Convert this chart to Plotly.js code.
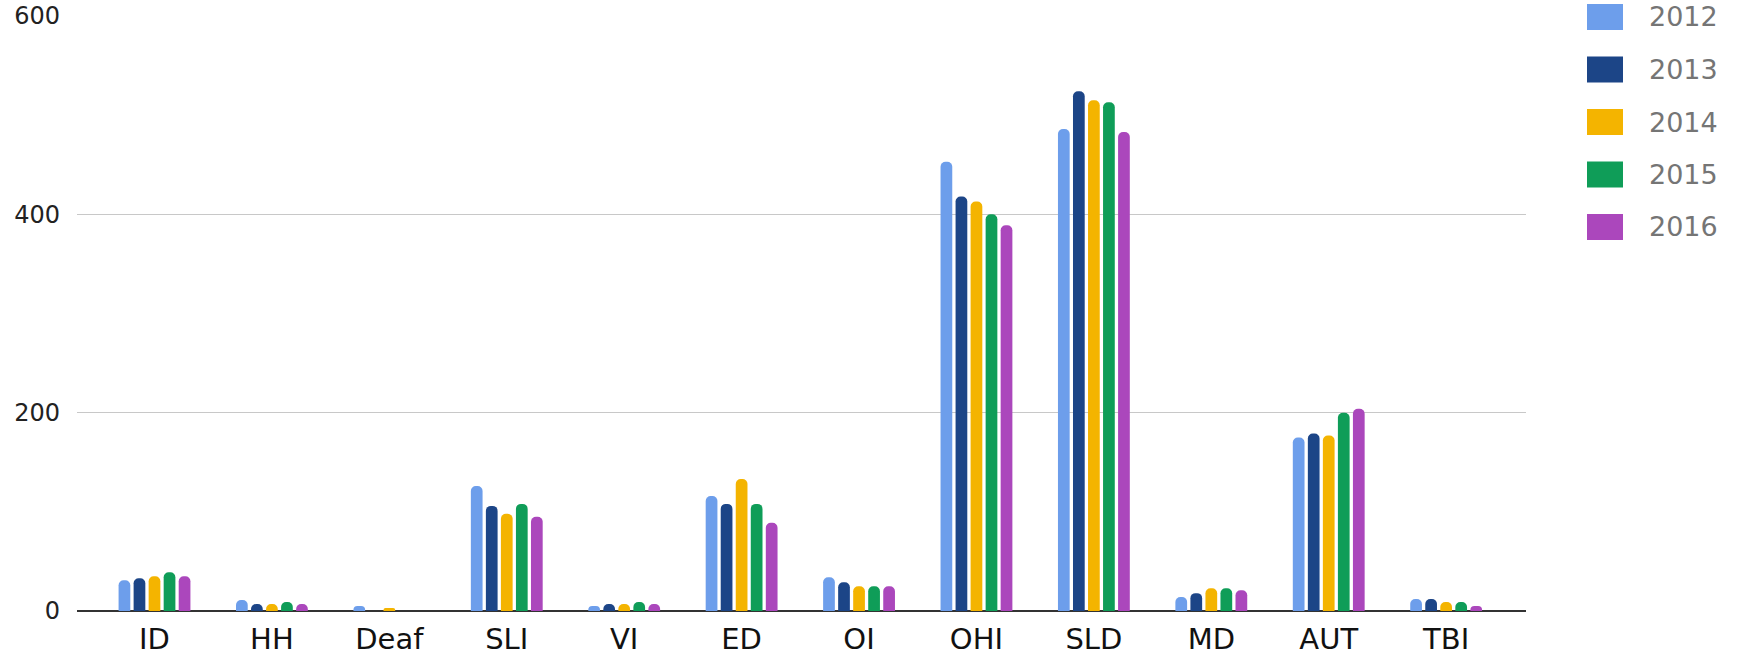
<!DOCTYPE html>
<html>
<head>
<meta charset="utf-8">
<script src="https://cdn.plot.ly/plotly-3.0.1.min.js"></script>
<style>html,body{margin:0;padding:0;background:#fff;}#chart{width:1740px;height:655px;}</style>
</head>
<body>
<div id="chart"></div>
<script>
const categories = ['ID','HH','Deaf','SLI','VI','ED','OI','OHI','SLD','MD','AUT','TBI'];
const seriesNames = ['2012','2013','2014','2015','2016'];
const v2012 = [31, 11, 5, 126, 5, 116, 34, 453, 486, 14, 175, 12];
const v2013 = [33, 7, 0, 106, 7, 108, 29, 418, 524, 18, 179, 12];
const v2014 = [35, 7, 3, 98, 7, 133, 25, 413, 515, 23, 177, 9];
const v2015 = [39, 9, 0, 108, 9, 108, 25, 400, 513, 23, 200, 9];
const v2016 = [35, 7, 0, 95, 7, 89, 25, 389, 483, 21, 204, 5];
const yTicks = [0, 200, 400, 600];

const seriesValues = [v2012, v2013, v2014, v2015, v2016];
const colors = ['#6d9eeb', '#1c4587', '#f4b400', '#0f9d58', '#ab47bc'];

const W = 1740, H = 655;
const M = {l: 77, r: 214, t: 16, b: 44};
const plotW = W - M.l - M.r, plotH = H - M.t - M.b;
const px2x = px => (px - M.l) / plotW;
const py2y = py => (H - M.b - py) / plotH;

const traces = seriesValues.map((vals, i) => ({
  type: 'bar',
  name: seriesNames[i],
  x: categories,
  y: vals,
  marker: {color: colors[i], cornerradius: 5},
  hoverinfo: 'x+y+name'
}));

const shapes = [], annotations = [];
seriesNames.forEach((nm, i) => {
  const cy = 17 + i * 52.5;
  shapes.push({
    type: 'rect', xref: 'paper', yref: 'paper',
    x0: px2x(1587), x1: px2x(1623), y0: py2y(cy + 13), y1: py2y(cy - 13),
    fillcolor: colors[i], line: {width: 0}
  });
  annotations.push({
    xref: 'paper', yref: 'paper', x: px2x(1647), y: py2y(cy),
    xanchor: 'left', yanchor: 'middle', showarrow: false, text: nm,
    font: {family: 'DejaVu Sans, sans-serif', size: 27, color: '#757575'}
  });
});

const layout = {
  width: W, height: H,
  margin: M,
  paper_bgcolor: '#ffffff', plot_bgcolor: '#ffffff',
  showlegend: false,
  barmode: 'group',
  bargap: 0.36,
  bargroupgap: 0.22,
  xaxis: {
    type: 'category',
    range: [-0.66, 11.68],
    showgrid: false, zeroline: false, showline: false,
    ticks: '',
    ticklabelstandoff: 8,
    tickfont: {family: 'DejaVu Sans, sans-serif', size: 29, color: '#111111'}
  },
  yaxis: {
    range: [0, 600],
    tickvals: yTicks,
    ticktext: yTicks.map(String),
    showgrid: true, gridcolor: '#c8c8c8', gridwidth: 1.6,
    zeroline: true, zerolinecolor: '#333333', zerolinewidth: 2,
    showline: false, ticks: '',
    ticklabelstandoff: 16,
    tickfont: {family: 'DejaVu Sans, sans-serif', size: 24, color: '#222222'}
  },
  shapes: shapes,
  annotations: annotations
};

Plotly.newPlot('chart', traces, layout, {displayModeBar: false, staticPlot: true});
</script>
</body>
</html>
